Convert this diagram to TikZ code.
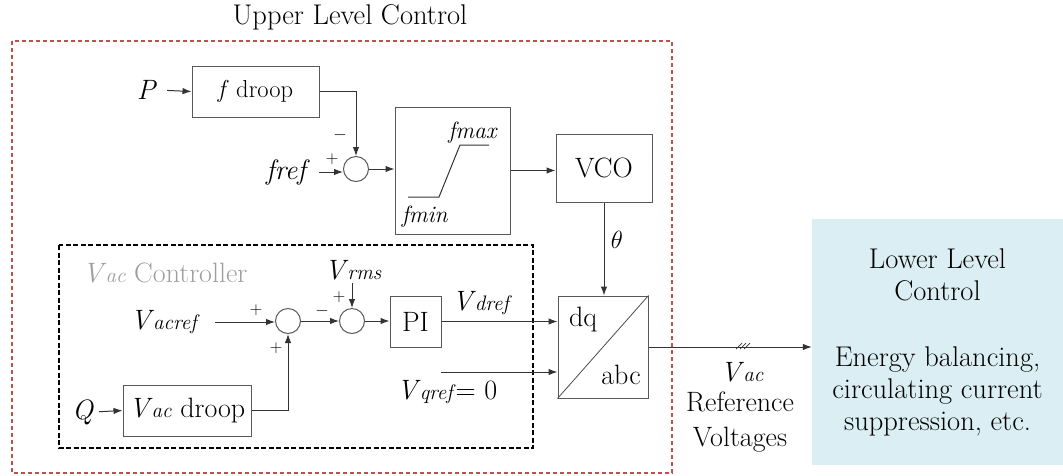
\documentclass[tikz,border=0pt]{standalone}
\usetikzlibrary{arrows.meta, positioning}
\usepackage{xcolor}
\definecolor{ulred}{RGB}{192,80,77}
\definecolor{llblue}{RGB}{218,238,243}
\newcommand{\vsub}[2]{\textit{#1}\kern-1pt{\fontsize{21}{21}\selectfont\textit{#2}}}

\begin{document}
\begin{tikzpicture}[
    x=1pt, y=-1pt,
    every node/.style={font=\fontsize{28}{32}\selectfont},
    blk/.style={rectangle, draw=black!65, line width=1pt, inner sep=0pt},
    sumc/.style={circle, draw=black!65, line width=1pt, minimum size=25pt, inner sep=0pt},
    lbl/.style={inner sep=0pt},
    sgn/.style={inner sep=0pt, font=\fontsize{17}{17}\selectfont},
    arr/.style={-{Latex[length=9pt, width=6.5pt]}, line width=1pt, draw=black!80}
]
    \useasboundingbox (0,0) rectangle (1063,475);

    % Frames
    \draw[ulred, line width=2pt, dash pattern=on 4pt off 3pt] (12,41) rectangle (672,473);
    \node[lbl, font=\fontsize{28.5}{32}\selectfont] (ulc) at (350,17) {Upper Level Control};
    \draw[black, line width=2pt, dash pattern=on 5pt off 2.5pt] (59,245) rectangle (533,448);

    % Frequency path
    \node[lbl] (P) at (147,90) {\textit{P}};
    \node[blk, minimum width=127pt, minimum height=51pt, font=\fontsize{24.5}{24.5}\selectfont] (fdroop) at (255.5,91.5) {\textit{f} droop};
    \node[sumc] (sum1) at (356,169) {};
    \node[lbl] (fref) at (288,172) {\textit{fref}};
    \node[sgn] (s1m) at (340,135) {$-$};
    \node[sgn] (s1p) at (332,159) {$+$};
    \node[blk, minimum width=115pt, minimum height=127pt] (lim) at (452.5,170.5) {};
    \draw[line width=1pt, black!80] (408,197) -- (439,197) -- (460,145) -- (489,145);
    \node[lbl, font=\fontsize{23.5}{23.5}\selectfont] (fmax) at (473,133) {\textit{fmax}};
    \node[lbl, font=\fontsize{23.5}{23.5}\selectfont] (fmin) at (425,217) {\textit{fmin}};
    \node[blk, minimum width=96pt, minimum height=68pt] (vco) at (604,168) {VCO};
    \node[lbl] (theta) at (617,240) {$\theta$};

    % Vac controller
    \node[lbl, text=black!38] (vacctl) at (165,273) {\vsub{V}{ac} Controller};
    \node[lbl] (vacref) at (165,322) {\vsub{V}{acref}};
    \node[sumc] (sum2) at (288,321) {};
    \node[sumc] (sum3) at (352,321) {};
    \node[sgn] (s2a) at (256,310) {$+$};
    \node[sgn] (s2b) at (276,348) {$+$};
    \node[sgn] (s3a) at (322,311) {$-$};
    \node[sgn] (s3b) at (339,297) {$+$};
    \node[lbl] (vrms) at (353,270) {\vsub{V}{rms}};
    \node[blk, minimum width=51pt, minimum height=51pt] (pi) at (415.5,321.5) {PI};
    \node[blk, minimum width=128pt, minimum height=51pt] (vacdroop) at (187,410.5) {\vsub{V}{ac} droop};
    \node[lbl] (Q) at (83,412) {\textit{Q}};

    % dq / abc
    \node[blk, minimum width=90pt, minimum height=102pt] (dq) at (603,347) {};
    \draw[line width=0.8pt, black!70] (dq.south west) -- (dq.north east);
    \node[lbl] (dqtxt) at (583,320) {dq};
    \node[lbl] (abctxt) at (621,375) {abc};
    \node[lbl] (vdref) at (482,303) {\vsub{V}{dref}};
    \node[lbl] (vqref) at (447,392) {\vsub{V}{qref}{}= 0};
    \coordinate (vqin) at (441,372);

    % Lower level
    \node[rectangle, fill=llblue, minimum width=251pt, minimum height=246pt, align=center, font=\fontsize{28.5}{32}\selectfont] (lower) at (937.5,342) {Lower Level\\Control\\[34pt]Energy balancing,\\circulating current\\suppression, etc.};
    \node[lbl] (vac) at (742,372) {\vsub{V}{ac}};
    \node[lbl, align=center, font=\fontsize{28}{35}\selectfont] (refv) at (740,422) {Reference\\Voltages};
    \coordinate (tick) at (743,346);

    % Connectors
    \draw[arr, shorten <=10pt] (P.east) -- (fdroop.west);
    \draw[arr] (fdroop.east) -| (sum1.north);
    \draw[arr, shorten <=9pt] (fref.east) -- (fref.east -| sum1.west);
    \draw[arr] (sum1.east) -- (sum1.east -| lim.west);
    \draw[arr] (lim.east) -- (lim.east -| vco.west);
    \draw[arr] (vco.south) -- (vco.south |- dq.north);

    \draw[arr, shorten <=15pt] (vacref.east) -- (vacref.east -| sum2.west);
    \draw[arr] (sum2.east) -- (sum3.west);
    \draw[arr, shorten <=3pt] (vrms.south -| sum3.north) -- (sum3.north);
    \draw[arr, shorten <=5pt] (Q.east) -- (vacdroop.west);
    \draw[arr] (vacdroop.east) -| (sum2.south);
    \draw[arr] (sum3.east) -- (sum3.east -| pi.west);
    \draw[arr] (pi.east) -- (pi.east -| dq.west);
    \draw[arr] (vqin) -- (vqin -| dq.west);
    \draw[arr] (dq.east) -- (dq.east -| lower.west);
    \foreach \dx in {-4,0,4}
        \draw[line width=0.7pt, black!80] ([shift={(\dx-3,3)}]tick) -- ([shift={(\dx+3,-3)}]tick);

\end{tikzpicture}
\end{document}
